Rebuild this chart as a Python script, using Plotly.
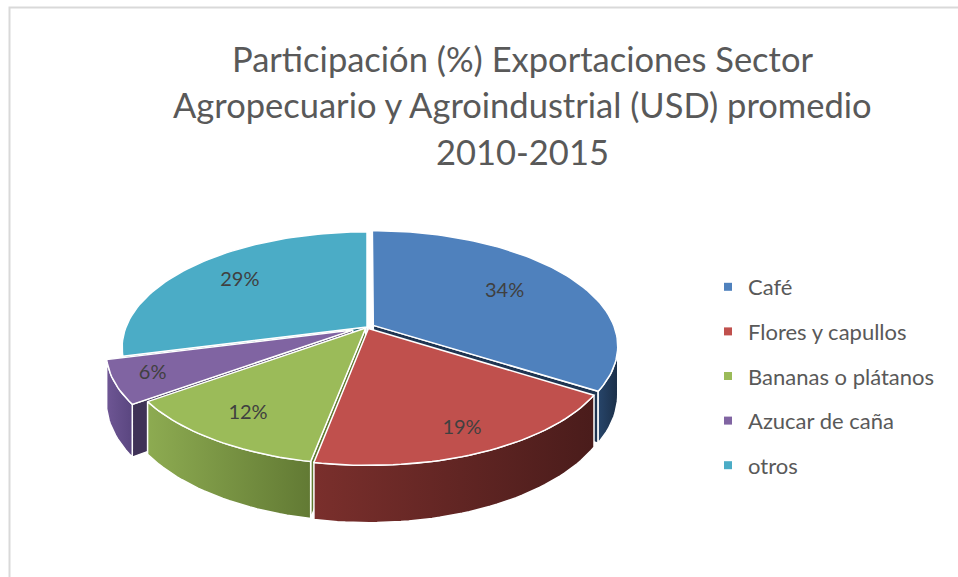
import math
import numpy as np
import plotly.graph_objects as go

# ---------------- data ----------------
categories = ["Café", "Flores y capullos", "Bananas o plátanos", "Azucar de caña", "otros"]
shares = [34, 19, 12, 6, 29]
title_lines = ["Participación (%) Exportaciones Sector",
               "Agropecuario y Agroindustrial (USD) promedio",
               "2010-2015"]

# ---------------- style ----------------
top_colors = ["#4F81BD", "#C0504D", "#9BBB59", "#8064A2", "#4BACC6"]
side_grad = [("#27456a", "#1b2f48"), ("#7a2f2c", "#4a1c1b"), ("#8dab51", "#627a34"),
             ("#6e5694", "#5a4680"), ("#3a8ea5", "#2f7a8e")]
radial_colors = ["#1f3552", "#5a2220", "#5f7a30", "#3f3257", "#2c6f82"]
explode = [0.03, 0.015, 0.01, 0.065, 0.0]
label_radius = [0.66, 0.84, 0.8, 0.85, 0.72]

FONT = "Lato"
CX, CY = 367.0, 327.0     # pie centre (pixels)
RX, RY = 241.0, 112.0     # radii of the top face
K = 0.177                 # perspective factor
DEPTH = 47.0              # thickness
W, H = 958, 577


def proj(X, Z, h=0.0):
    s = 1.0 / (1.0 + K * Z)
    return CX + RX * X * s, CY - RY * Z * s + h * DEPTH * s


def poly(pts):
    xs = [p[0] for p in pts] + [pts[0][0]]
    ys = [p[1] for p in pts] + [pts[0][1]]
    return xs, ys


fig = go.Figure()

total = float(sum(shares))
TH1 = math.degrees(math.acos(-K))
TH2 = 360.0 - TH1

faces = []   # (depth, trace kwargs)
tops = []
label_x, label_y = [], []
start = 0.0
for i, v in enumerate(shares):
    a = start
    b = start + 360.0 * v / total
    start = b
    mid = math.radians((a + b) / 2)
    ox = explode[i] * math.sin(mid)
    oz = explode[i] * math.cos(mid)

    def rim(t, h=0.0, r=1.0):
        tr = math.radians(t)
        return proj(ox + r * math.sin(tr), oz + r * math.cos(tr), h)

    # top face
    n = max(int((b - a) / 1.5), 4)
    pts = [proj(ox, oz)] + [rim(t) for t in np.linspace(a, b, n)]
    xs, ys = poly(pts)
    tops.append(dict(x=xs, y=ys, fillcolor=top_colors[i], name=categories[i]))

    # outer side face
    lo, hi = max(a, TH1), min(b, TH2)
    if hi > lo:
        ts = np.linspace(lo, hi, max(int((hi - lo) / 1.5), 3))
        pts = [rim(t, 0) for t in ts] + [rim(t, 1) for t in ts[::-1]]
        xs, ys = poly(pts)
        zmid = oz + math.cos(math.radians((lo + hi) / 2))
        faces.append((zmid, dict(x=xs, y=ys, fillgradient=dict(
            type="horizontal",
            colorscale=[[0, side_grad[i][0]], [1, side_grad[i][1]]]))))

    # radial faces
    for e, nrm in ((a, a - 90), (b, b + 90)):
        if math.cos(math.radians(nrm)) < -0.05:
            pts = [proj(ox, oz, 0), rim(e, 0), rim(e, 1), proj(ox, oz, 1)]
            xs, ys = poly(pts)
            zmid = oz + 0.5 * math.cos(math.radians(e))
            faces.append((zmid, dict(x=xs, y=ys, fillcolor=radial_colors[i])))

    lx, ly = rim((a + b) / 2, 0, label_radius[i])
    label_x.append(lx)
    label_y.append(ly)

faces.sort(key=lambda f: -f[0])
for _, f in faces:
    fig.add_trace(go.Scatter(mode="lines", fill="toself",
                             line=dict(color="white", width=1.5),
                             hoverinfo="skip", showlegend=False, **f))

for t in tops:
    fig.add_trace(go.Scatter(x=t["x"], y=t["y"], mode="lines", fill="toself",
                             fillcolor=t["fillcolor"],
                             line=dict(color="white", width=1.5),
                             hoverinfo="skip", showlegend=False))

fig.add_trace(go.Scatter(x=label_x, y=label_y, mode="text",
                         text=[f"{v}%" for v in shares],
                         textfont=dict(family=FONT, size=20, color="#404040"),
                         hoverinfo="skip", showlegend=False))

# legend entries
for i, c in enumerate(categories):
    fig.add_trace(go.Scatter(x=[None], y=[None], mode="markers", name=c,
                             legendgroup=c,
                             marker=dict(symbol="square", size=8, color=top_colors[i])))

ann = []
for j, line in enumerate(title_lines):
    ann.append(dict(x=522, y=58 + 46.5 * j, xref="x", yref="y", text=line,
                    showarrow=False, xanchor="center", yanchor="middle",
                    font=dict(family=FONT, size=34.5, color="#595959")))

fig.update_layout(
    width=W, height=H,
    margin=dict(l=0, r=0, t=0, b=0),
    paper_bgcolor="white", plot_bgcolor="white",
    xaxis=dict(range=[0, W], visible=False, fixedrange=True),
    yaxis=dict(range=[H, 0], visible=False, fixedrange=True),
    annotations=ann,
    shapes=[dict(type="rect", xref="x", yref="y", x0=9.5, x1=W + 20, y0=7.5, y1=H + 20,
                 line=dict(color="#d9d9d9", width=2), layer="below")],
    legend=dict(x=708 / W, xanchor="left", y=1 - 266 / H, yanchor="top",
                font=dict(family=FONT, size=22, color="#595959"),
                tracegroupgap=13, traceorder="grouped",
                bgcolor="rgba(0,0,0,0)"),
    showlegend=True,
)

fig.write_html("out.html", config={"displayModeBar": False},
               post_script="document.body.style.margin='0';")
